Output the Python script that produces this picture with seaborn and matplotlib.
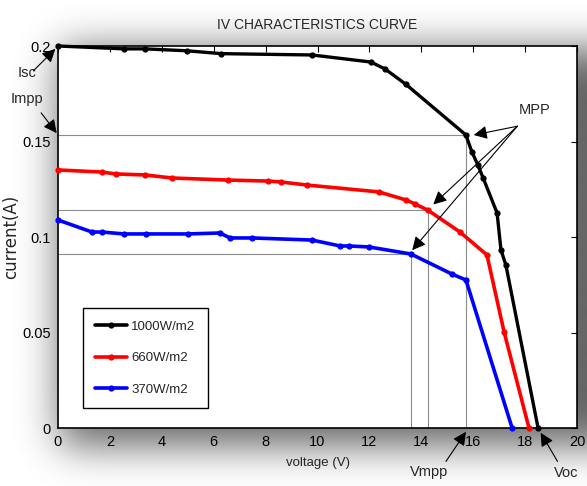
import numpy as np
import pandas as pd
import matplotlib
matplotlib.use("Agg")
import matplotlib.pyplot as plt
import seaborn as sns

# ---- data ----
v_1000 = [0, 2.54, 3.35, 4.97, 6.28, 9.79, 12.06, 12.6, 13.4, 15.72, 15.95, 16.18, 16.38, 16.92, 17.07, 17.26, 18.5]
i_1000 = [0.2, 0.1985, 0.1985, 0.1975, 0.196, 0.1953, 0.1916, 0.188, 0.180, 0.1534, 0.1445, 0.1377, 0.131, 0.1126, 0.0932, 0.0853, 0]

v_660 = [0, 1.70, 2.24, 3.35, 4.39, 6.55, 8.09, 8.59, 9.60, 12.37, 13.41, 13.76, 14.26, 15.49, 16.53, 17.19, 18.15]
i_660 = [0.1351, 0.134, 0.133, 0.1325, 0.1309, 0.1298, 0.1293, 0.1288, 0.1272, 0.1236, 0.1194, 0.1173, 0.1140, 0.1026, 0.0906, 0.0503, 0]

v_370 = [0, 1.31, 1.70, 2.54, 3.39, 5.01, 6.24, 6.63, 7.48, 9.79, 10.87, 11.21, 11.98, 13.60, 15.18, 15.72, 17.5]
i_370 = [0.1089, 0.1026, 0.1026, 0.1016, 0.1016, 0.1016, 0.1021, 0.0995, 0.0995, 0.0984, 0.0953, 0.0953, 0.0948, 0.0911, 0.0806, 0.0775, 0]

labels = ["1000W/m2", "660W/m2", "370W/m2"]
colors = ["black", "red", "blue"]
mpp_idx = [9, 12, 13]   # index of the maximum power point in each series

x_ticks = list(range(0, 21, 2))
y_ticks = [0, 0.05, 0.1, 0.15, 0.2]

series = [(v_1000, i_1000), (v_660, i_660), (v_370, i_370)]

sns.set_theme(style="white")
plt.rcParams["font.family"] = ["Liberation Sans", "DejaVu Sans"]

W, H = 587, 486
fig = plt.figure(figsize=(W / 100, H / 100), dpi=100)

# soft drop-shadow behind the plot box
bg = fig.add_axes([0, 0, 1, 1], zorder=-10)
mask = np.zeros((H, W))
mask[50:446, 60:W] = 1.0
sig = 20
k = np.exp(-0.5 * (np.arange(-3 * sig, 3 * sig + 1) / sig) ** 2)
k /= k.sum()
pad = 3 * sig
m = np.pad(mask, pad, mode="edge")
m = np.apply_along_axis(lambda r: np.convolve(r, k, mode="same"), 1, m)
m = np.apply_along_axis(lambda c: np.convolve(c, k, mode="same"), 0, m)
m = m[pad:-pad, pad:-pad]
bg.imshow(1 - 0.6 * m, cmap="gray", vmin=0, vmax=1, aspect="auto", interpolation="bilinear")
bg.axis("off")

ax = fig.add_axes([58 / W, 58 / H, 519 / W, 382 / H])
ax.set_facecolor("white")

lws = [2.4, 2.6, 2.6]
for (v, i), lab, c, lw in zip(series, labels, colors, lws):
    df = pd.DataFrame({"voltage": v, "current": i})
    sns.lineplot(data=df, x="voltage", y="current", sort=False, color=c, lw=lw,
                 marker="o", markersize=4.5, markeredgewidth=0, label=lab, ax=ax,
                 clip_on=False, zorder=3)

# MPP reference lines
for (v, i), idx in zip(series, mpp_idx):
    ax.plot([0, v[idx]], [i[idx], i[idx]], color="0.55", lw=0.8, zorder=1)
    ax.plot([v[idx], v[idx]], [0, i[idx]], color="0.55", lw=0.8, zorder=1)

ax.set_xlim(0, 20)
ax.set_ylim(0, 0.2)
ax.set_xticks(x_ticks)
ax.set_yticks(y_ticks)
ax.set_yticklabels(["0", "0.05", "0.1", "0.15", "0.2"])
ax.tick_params(direction="in", length=4, width=0.8, top=True, right=True,
               labelsize=10.5, colors="black", pad=5)
for s in ax.spines.values():
    s.set_color("black")
    s.set_linewidth(1.2)

ax.set_title("IV CHARACTERISTICS CURVE", fontsize=10, pad=12)
ax.set_xlabel("voltage (V)", fontsize=9.5, labelpad=6)
ax.set_ylabel("current(A)", fontsize=12, family=["DejaVu Sans"], labelpad=2)

leg = ax.legend(loc="lower left", bbox_to_anchor=(0.048, 0.052), borderaxespad=0,
                fontsize=9.5, frameon=True, fancybox=False, edgecolor="black", framealpha=1,
                handlelength=2.4, labelspacing=1.45, borderpad=0.95, handletextpad=0.3)
leg.get_frame().set_linewidth(1.0)
for h in leg.legend_handles:
    h.set_linewidth(2.6)

arrow = dict(arrowstyle="-|>", color="black", lw=0.8, mutation_scale=20, shrinkA=0, shrinkB=0)
fs = 10.5

# Isc / Impp on the current axis
ax.text(-1.2, 0.186, "Isc", fontsize=fs, ha="center", va="center")
ax.annotate("", xy=(-0.1, 0.1985), xytext=(-0.95, 0.187), arrowprops=arrow, annotation_clip=False)
ax.text(-1.2, 0.1725, "Impp", fontsize=fs, ha="center", va="center")
ax.annotate("", xy=(-0.05, i_1000[mpp_idx[0]] + 0.001), xytext=(-0.65, 0.165), arrowprops=arrow,
            annotation_clip=False)

# MPP arrows
ax.text(18.35, 0.1665, "MPP", fontsize=fs, ha="center", va="center")
tail = (17.7, 0.158)
for (v, i), idx, off in zip(series, mpp_idx, [(0.3, 0.0), (0.2, 0.003), (0.05, 0.002)]):
    ax.annotate("", xy=(v[idx] + off[0], i[idx] + off[1]), xytext=tail, arrowprops=arrow)

# Vmpp / Voc below the voltage axis
ax.text(14.3, -0.023, "Vmpp", fontsize=fs, ha="center", va="center")
ax.annotate("", xy=(v_1000[mpp_idx[0]], -0.002), xytext=(14.95, -0.0175), arrowprops=arrow,
            annotation_clip=False)
ax.text(19.6, -0.0235, "Voc", fontsize=fs, ha="center", va="center")
ax.annotate("", xy=(v_1000[-1] + 0.1, -0.0025), xytext=(19.25, -0.0175), arrowprops=arrow,
            annotation_clip=False)

fig.savefig("out.png", dpi=100)
